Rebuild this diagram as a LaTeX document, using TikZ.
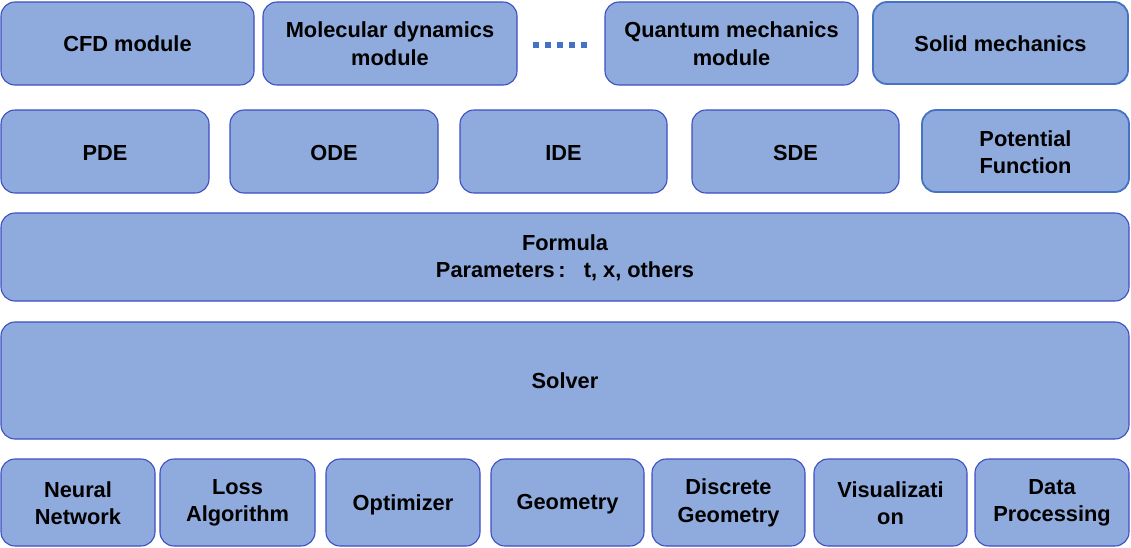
\documentclass[tikz,border=0pt]{standalone}
\usepackage{fontspec}
\setmainfont{Liberation Sans}
\definecolor{boxfill}{HTML}{8FAADC}
\definecolor{boxline}{HTML}{3D4FC4}
\definecolor{boxlineb}{HTML}{4472C4}
\begin{document}
\begin{tikzpicture}[x=1pt,y=-1pt,
  blk/.style={draw=boxline, line width=1.1pt, fill=boxfill, rounded corners=14pt},
  blkb/.style={blk, draw=boxlineb, line width=1.8pt},
  lbl/.style={font=\fontsize{21.8}{27.5}\selectfont\bfseries, align=center, inner sep=0pt}]
\useasboundingbox (0,0) rectangle (1131,547);
% row 1
\draw[blk] (1,2) rectangle (254,85);
\node[lbl] (cfd) at (127.5,43.5) {CFD module};
\draw[blk] (263,2) rectangle (517,85);
\node[lbl] (md) at (390,43.5) {Molecular dynamics\\module};
\draw[line width=6.5pt, boxlineb, dash pattern=on 6.5pt off 5.5pt] (532.5,45) -- (590,45);
\draw[blk] (605,2) rectangle (858,85);
\node[lbl] (qm) at (731.5,43.5) {Quantum mechanics\\module};
\draw[blkb] (873,2) rectangle (1128,84);
\node[lbl] (sm) at (1000.5,43.5) {Solid mechanics};
% row 2
\draw[blk] (1,110) rectangle (209,193);
\node[lbl] (pde) at (105,152.5) {PDE};
\draw[blk] (230,110) rectangle (438,193);
\node[lbl] (ode) at (334,152.5) {ODE};
\draw[blk] (460,110) rectangle (667,193);
\node[lbl] (ide) at (563.5,152.5) {IDE};
\draw[blk] (692,110) rectangle (899,193);
\node[lbl] (sde) at (795.5,152.5) {SDE};
\draw[blkb] (922,110) rectangle (1129,192);
\node[lbl] (pf) at (1025.5,152) {Potential\\Function};
% row 3
\draw[blk] (1,213) rectangle (1129,301);
\node[lbl] (formula) at (565,258) {Formula\\Parameters\,:\ \ \ t, x, others};
% row 4
\draw[blk] (1,322) rectangle (1129,439);
\node[lbl] (solver) at (565,380.5) {Solver};
% row 5
\draw[blk] (1,459) rectangle (155,546);
\node[lbl] (nn) at (78,503) {Neural\\Network};
\draw[blk] (160,459) rectangle (315,546);
\node[lbl] (loss) at (237.5,503) {Loss\\Algorithm};
\draw[blk] (326,459) rectangle (480,546);
\node[lbl] (opt) at (403,504.5) {Optimizer};
\draw[blk] (491,459) rectangle (644,546);
\node[lbl] (geo) at (567.5,504.5) {Geometry};
\draw[blk] (652,459) rectangle (805,546);
\node[lbl] (dg) at (728.5,503) {Discrete\\Geometry};
\draw[blk] (814,459) rectangle (967,546);
\node[lbl] (vis) at (890.5,503) {Visualizati\\on};
\draw[blk] (975,459) rectangle (1129,546);
\node[lbl] (dp) at (1052,503) {Data\\Processing};
\end{tikzpicture}
\end{document}
